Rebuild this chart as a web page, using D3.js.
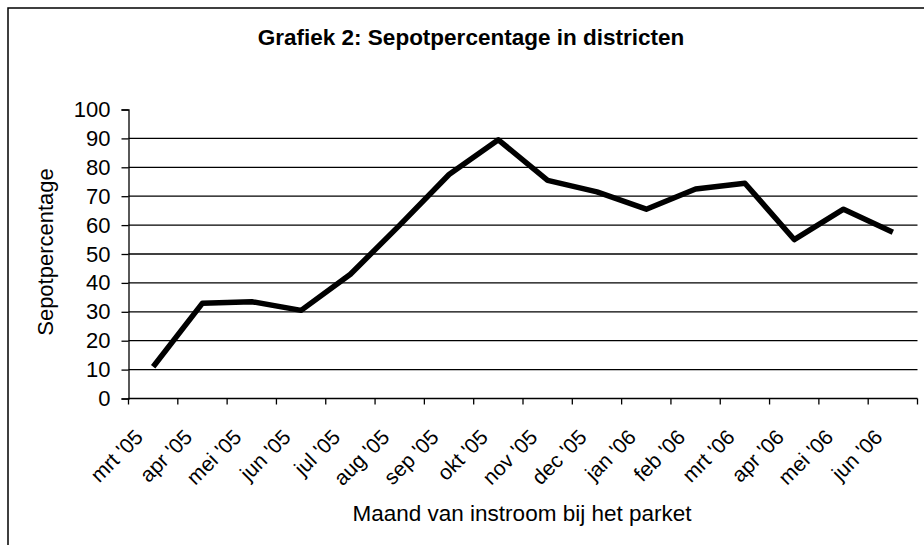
<!DOCTYPE html>
<html>
<head>
<meta charset="utf-8">
<script src="https://cdn.jsdelivr.net/npm/d3@7"></script>
<style>
    html, body { margin: 0; padding: 0; background: #fff; }
    svg text { font-family: "Liberation Sans", Arial, sans-serif; fill: #000; }
</style>
</head>
<body>
<div id="chart"></div>
<script>
// data
var months = ["mrt '05", "apr '05", "mei '05", "jun '05", "jul '05", "aug '05", "sep '05", "okt '05",
    "nov '05", "dec '05", "jan '06", "feb '06", "mrt '06", "apr '06", "mei '06", "jun '06"];
var sepot = [11, 33, 33.5, 30.5, 43, 60, 77.5, 89.5, 75.5, 71.5, 65.5, 72.5, 74.5, 55, 65.5, 57.5];
var yTicks = [0, 10, 20, 30, 40, 50, 60, 70, 80, 90, 100];
var gridTicks = [10, 20, 30, 40, 50, 60, 70, 80, 90];

var width = 924, height = 545;
var plot = {left: 128.5, right: 917.5, top: 109.5, bottom: 398.5};

var svg = d3.select('#chart')
    .append('svg')
    .attr('width', width)
    .attr('height', height);

// frame (only left and top edge visible in the scan)
svg.append('rect')
    .attr('x', 8).attr('y', 8)
    .attr('width', 940).attr('height', 560)
    .attr('fill', 'none')
    .attr('stroke', '#000')
    .attr('stroke-width', 1.5);

var x = d3.scaleBand()
    .domain(months)
    .range([plot.left, plot.right]);

var y = d3.scaleLinear()
    .domain([0, 100])
    .range([plot.bottom, plot.top]);

// gridlines
svg.append('g')
    .selectAll('line')
    .data(gridTicks)
    .join('line')
    .attr('x1', plot.left).attr('x2', plot.right)
    .attr('y1', function (d) { return y(d); })
    .attr('y2', function (d) { return y(d); })
    .attr('stroke', '#000')
    .attr('stroke-width', 1.3);

// y axis
var yAxis = svg.append('g')
    .attr('transform', 'translate(' + plot.left + ',0)')
    .call(d3.axisLeft(y).tickValues(yTicks).tickSize(7).tickPadding(11));
yAxis.select('.domain').attr('stroke-width', 1.3);
yAxis.selectAll('.tick line').attr('stroke-width', 1.3);
yAxis.selectAll('.tick text').attr('font-size', '22px');

// x axis: ticks between categories
var xAxis = svg.append('g')
    .attr('transform', 'translate(0,' + plot.bottom + ')');
xAxis.append('line')
    .attr('x1', plot.left).attr('x2', plot.right)
    .attr('stroke', '#000').attr('stroke-width', 1.3);
xAxis.selectAll('.xtick')
    .data(months.concat(['end']))
    .join('line')
    .attr('class', 'xtick')
    .attr('x1', function (d, i) { return plot.left + i * x.step(); })
    .attr('x2', function (d, i) { return plot.left + i * x.step(); })
    .attr('y1', 0).attr('y2', 6)
    .attr('stroke', '#000').attr('stroke-width', 1.3);
xAxis.selectAll('.xlabel')
    .data(months)
    .join('text')
    .attr('class', 'xlabel')
    .attr('font-size', '21px')
    .attr('text-anchor', 'end')
    .attr('transform', function (d) {
        return 'translate(' + (x(d) + x.bandwidth() / 2 - 9) + ',40) rotate(-45)';
    })
    .text(function (d) { return d; });

// line
var line = d3.line()
    .x(function (d, i) { return x(months[i]) + x.bandwidth() / 2; })
    .y(function (d) { return y(d); });

svg.append('path')
    .datum(sepot)
    .attr('d', line)
    .attr('fill', 'none')
    .attr('stroke', '#000')
    .attr('stroke-width', 5.5)
    .attr('stroke-linejoin', 'round');

// titles
svg.append('text')
    .attr('x', 471).attr('y', 45)
    .attr('text-anchor', 'middle')
    .attr('font-size', '22.5px')
    .attr('font-weight', 'bold')
    .text('Grafiek 2: Sepotpercentage in districten');

svg.append('text')
    .attr('x', 522).attr('y', 521)
    .attr('text-anchor', 'middle')
    .attr('font-size', '22.5px')
    .text('Maand van instroom bij het parket');

svg.append('text')
    .attr('transform', 'translate(53,252) rotate(-90)')
    .attr('text-anchor', 'middle')
    .attr('font-size', '22px')
    .text('Sepotpercentage');
</script>
</body>
</html>
